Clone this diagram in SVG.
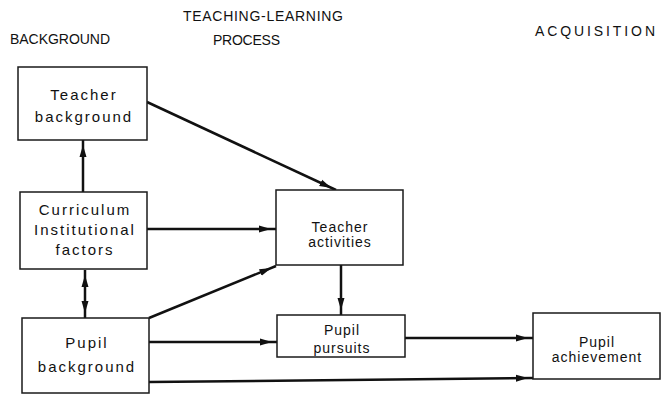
<svg xmlns="http://www.w3.org/2000/svg" width="663" height="396" viewBox="0 0 663 396">
  <style>
    .box { fill: #fff; stroke: #1a1a1a; stroke-width: 1.5; }
    .title { font-family: "Liberation Sans", Arial, sans-serif; font-size: 14px; fill: #111; }
    .big { font-family: "Liberation Sans", Arial, sans-serif; font-size: 15px; letter-spacing: 2px; fill: #111; text-anchor: middle; }
    .small { font-family: "Liberation Sans", Arial, sans-serif; font-size: 14px; letter-spacing: 1px; fill: #111; text-anchor: middle; }
    .edge { stroke: #111; stroke-width: 2.5; fill: none; }
  </style>
  <defs>
    <marker id="arrow" viewBox="0 0 22 10" refX="17" refY="5" markerWidth="22" markerHeight="10" markerUnits="userSpaceOnUse" orient="auto-start-reverse">
      <path d="M0,1.5 L12,5 L0,8.5 Z" fill="#111"/>
    </marker>
  </defs>

  <rect width="663" height="396" fill="#fff"/>

  <!-- column headings -->
  <text class="title" x="10" y="44" textLength="100" lengthAdjust="spacing">BACKGROUND</text>
  <text class="title" x="183" y="21" textLength="160" lengthAdjust="spacing">TEACHING-LEARNING</text>
  <text class="title" x="213" y="45" textLength="67" lengthAdjust="spacing">PROCESS</text>
  <text class="title" x="535" y="36" font-size="13" textLength="120" lengthAdjust="spacing">ACQUISITION</text>

  <!-- connectors -->
  <g id="connectors">
    <line class="edge" x1="147" y1="102" x2="336" y2="190" marker-end="url(#arrow)"/>
    <line class="edge" x1="147" y1="229" x2="276" y2="229" marker-end="url(#arrow)"/>
    <line class="edge" x1="149" y1="318" x2="276" y2="266" marker-end="url(#arrow)"/>
    <line class="edge" x1="83" y1="192" x2="83" y2="140" marker-end="url(#arrow)"/>
    <line class="edge" x1="85" y1="270" x2="85" y2="318" marker-end="url(#arrow)" marker-start="url(#arrow)"/>
    <line class="edge" x1="341" y1="265" x2="341" y2="315" marker-end="url(#arrow)"/>
    <line class="edge" x1="149" y1="342" x2="277" y2="342" marker-end="url(#arrow)"/>
    <line class="edge" x1="405" y1="338" x2="533" y2="338" marker-end="url(#arrow)"/>
    <line class="edge" x1="149" y1="382" x2="533" y2="378" marker-end="url(#arrow)"/>
  </g>

  <g id="teacher-background">
    <rect class="box" x="18" y="67" width="129" height="73"/>
    <text class="big" x="84" y="100">Teacher</text>
    <text class="big" x="84" y="122">background</text>
  </g>

  <g id="curriculum">
    <rect class="box" x="20" y="192" width="127" height="77"/>
    <text class="big" x="85" y="215">Curriculum</text>
    <text class="big" x="85" y="235">Institutional</text>
    <text class="big" x="85" y="255">factors</text>
  </g>

  <g id="pupil-background">
    <rect class="box" x="22" y="318" width="127" height="75"/>
    <text class="big" x="87" y="348">Pupil</text>
    <text class="big" x="87" y="372">background</text>
  </g>

  <g id="teacher-activities">
    <rect class="box" x="276" y="190" width="127" height="75"/>
    <text class="small" x="340" y="232">Teacher</text>
    <text class="small" x="340" y="247">activities</text>
  </g>

  <g id="pupil-pursuits">
    <rect class="box" x="277" y="315" width="128" height="42"/>
    <text class="small" x="342" y="335" letter-spacing="2">Pupil</text>
    <text class="small" x="342" y="353">pursuits</text>
  </g>

  <g id="pupil-achievement">
    <rect class="box" x="533" y="313" width="127" height="66"/>
    <text class="small" x="597" y="347" letter-spacing="2">Pupil</text>
    <text class="small" x="597" y="362">achievement</text>
  </g>
</svg>
